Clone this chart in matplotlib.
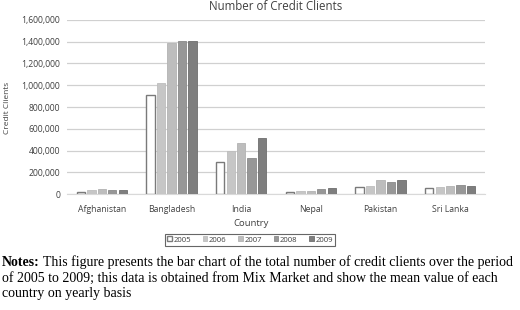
import matplotlib
matplotlib.use("Agg")
import matplotlib.pyplot as plt
import numpy as np

countries = ["Afghanistan", "Bangladesh", "India", "Nepal", "Pakistan", "Sri Lanka"]
years = ["2005", "2006", "2007", "2008", "2009"]
v2005 = [21000, 910000, 295000, 21000, 62000, 55000]
v2006 = [34000, 1023000, 394000, 25000, 77000, 68000]
v2007 = [43000, 1386000, 468000, 25000, 126000, 74000]
v2008 = [40000, 1407000, 332000, 46000, 114000, 83000]
v2009 = [37000, 1410000, 511000, 52000, 126000, 74000]
series = [v2005, v2006, v2007, v2008, v2009]
yticks = [0, 200000, 400000, 600000, 800000, 1000000, 1200000, 1400000, 1600000]

faces = ["#ffffff", "#c6c6c6", "#bdbdbd", "#979797", "#7e7e7e"]
edges = ["#7a7a7a", "#bdbdbd", "#b3b3b3", "#8a8a8a", "#6e6e6e"]
FONT = "Open Sans"
TC = "#404040"

fig = plt.figure(figsize=(5.2, 3.1), dpi=100)
ax = fig.add_axes([67/520, 1-194/310, (485-67)/520, (194-20)/310])

x = np.arange(len(countries))
slot = 0.15
bw = 0.12
for i, (vals, fc, ec) in enumerate(zip(series, faces, edges)):
    lw = 1.0 if i == 0 else 0.6
    ax.bar(x + (i-2)*slot, vals, width=bw, color=fc, edgecolor=ec, linewidth=lw,
           label=years[i], zorder=3)

ax.set_xlim(-0.5, len(countries)-0.5)
ax.set_ylim(0, 1600000)
ax.set_yticks(yticks)
ax.set_yticklabels([f"{t:,}" for t in yticks], fontsize=6.2, color=TC, family=FONT)
ax.set_xticks(x)
ax.set_xticklabels(countries, fontsize=6.2, color=TC, family=FONT)
ax.tick_params(axis="y", length=0, pad=5)
ax.tick_params(axis="x", length=0, pad=8)
ax.grid(axis="y", color="#d0d0d0", linewidth=0.9, zorder=0)
for s in ["top", "right", "left"]:
    ax.spines[s].set_visible(False)
ax.spines["bottom"].set_color("#d9d9d9")

fig.text(276/520, 1-10/310, "Number of Credit Clients", ha="center", va="baseline",
         fontsize=8.3, color=TC, family=FONT)
fig.text(8/520, 1-108/310, "Credit Clients", ha="center", va="center", rotation=90,
         fontsize=6.0, color=TC, family=FONT)
fig.text(251/520, 1-223/310, "Country", ha="center", va="center",
         fontsize=6.8, color=TC, family=FONT)

leg = fig.legend(loc="center", bbox_to_anchor=(250/520, 1-240/310), ncol=5,
                 frameon=True, fancybox=False, handlelength=0.6,
                 handleheight=0.6, handletextpad=0.2, columnspacing=1.5,
                 borderpad=0.35, prop={"family": FONT, "size": 5.6})
leg.get_frame().set_edgecolor(TC)
leg.get_frame().set_linewidth(0.8)
for t in leg.get_texts():
    t.set_color(TC)

FS = 10.0
SERIF = "Liberation Serif"
y1 = 1-262/310
t0 = fig.text(2/520, y1, "Notes:", ha="left", va="center", fontsize=FS,
              family=SERIF, weight="bold", color="black")
fig.canvas.draw()
bb = t0.get_window_extent(renderer=fig.canvas.get_renderer())
x_after = (bb.x1 + 3) / fig.bbox.width
fig.text(x_after, y1, "This figure presents the bar chart of the total number of credit clients over the period",
         ha="left", va="center", fontsize=FS, family=SERIF, color="black")
fig.text(2/520, 1-278/310, "of 2005 to 2009; this data is obtained from Mix Market and show the mean value of each",
         ha="left", va="center", fontsize=FS, family=SERIF, color="black")
fig.text(2/520, 1-294/310, "country on yearly basis", ha="left", va="center", fontsize=FS,
         family=SERIF, color="black")

fig.savefig("out.png", dpi=100)
